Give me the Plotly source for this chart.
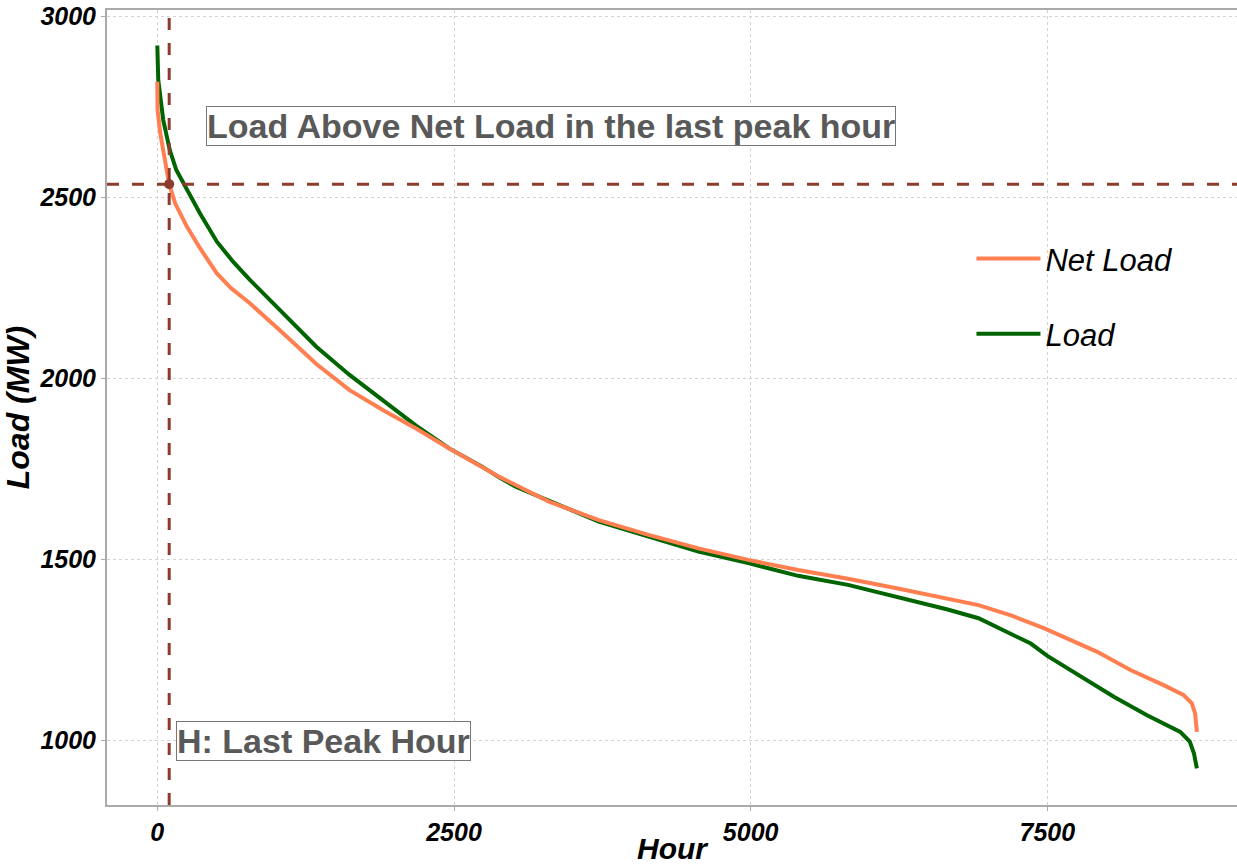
import plotly.graph_objects as go

# ---- data ----
load_hours = [0, 8, 50, 105, 160, 250, 360, 502, 640, 782, 1060, 1340, 1620, 1900,
              2180, 2460, 2740, 2880, 3020, 3720, 4560, 4980, 5400, 5820, 6240, 6660,
              6920, 7220, 7360, 7500, 7780, 8060, 8340, 8620, 8700, 8735, 8760]
load_mw = [2920, 2824, 2714, 2631, 2576, 2521, 2456, 2378, 2322, 2272, 2180, 2088, 2010, 1941,
           1870, 1807, 1756, 1727, 1701, 1605, 1522, 1490, 1455, 1430, 1397, 1362,
           1338, 1291, 1268, 1234, 1176, 1121, 1070, 1024, 997, 965, 923]

net_hours = [0, 2, 25, 65, 100, 150, 250, 360, 500, 620, 780, 1060, 1340, 1620, 1900, 2180,
             2460, 2880, 3300, 3720, 4140, 4560, 4980, 5400, 5820, 6240, 6660, 6920,
             7200, 7480, 7920, 8200, 8480, 8646, 8717, 8745, 8760]
net_mw = [2820, 2742, 2677, 2604, 2537, 2484, 2419, 2360, 2291, 2250, 2208, 2125, 2040, 1968, 1913, 1862,
          1807, 1729, 1660, 1609, 1568, 1531, 1499, 1471, 1447, 1420, 1390, 1374,
          1345, 1309, 1245, 1195, 1153, 1126, 1103, 1075, 1024]

peak_hour = 100
peak_net_load = 2537

x_ticks = [0, 2500, 5000, 7500]
y_ticks = [1000, 1500, 2000, 2500, 3000]

label_top = "Load Above Net Load in the last peak hour"
label_bottom = "H: Last Peak Hour"

# ---- styles ----
FONT = "Liberation Sans, Arial, sans-serif"
BROWN = "#8c3b2c"
GREEN = "#006400"
CORAL = "#FF7F50"
AXIS_GRAY = "#aaaaaa"
GRID_GRAY = "#d3d3d3"

fig = go.Figure()

fig.add_trace(go.Scatter(x=load_hours, y=load_mw, mode="lines", name="Load",
                         line=dict(color=GREEN, width=4), legendrank=2,
                         legendgroup="b"))
fig.add_trace(go.Scatter(x=net_hours, y=net_mw, mode="lines", name="Net Load",
                         line=dict(color=CORAL, width=4), legendrank=1,
                         legendgroup="a"))

fig.add_shape(type="line", xref="x", yref="paper", x0=peak_hour, x1=peak_hour, y0=0, y1=1,
              line=dict(color=BROWN, width=3, dash="12px,13px"), layer="above")
fig.add_shape(type="line", xref="paper", yref="y", x0=0, x1=1, y0=peak_net_load, y1=peak_net_load,
              line=dict(color=BROWN, width=3, dash="12px,13px"), layer="above")

fig.add_trace(go.Scatter(x=[peak_hour], y=[peak_net_load], mode="markers", showlegend=False,
                         marker=dict(color=BROWN, size=10)))

fig.add_annotation(x=410, y=2697, xref="x", yref="y", text=label_top, showarrow=False,
                   xanchor="left", yanchor="middle",
                   font=dict(family=FONT, size=34, color="#595959", weight="bold"),
                   bgcolor="white", bordercolor="#777777", borderwidth=1, borderpad=0)
fig.add_annotation(x=158, y=1000, xref="x", yref="y", text=label_bottom, showarrow=False,
                   xanchor="left", yanchor="middle",
                   font=dict(family=FONT, size=34, color="#595959", weight="bold"),
                   bgcolor="white", bordercolor="#777777", borderwidth=1, borderpad=0)

tick_font = dict(family=FONT, size=25, color="black", weight="bold", style="italic")
x_title_font = dict(family=FONT, size=30, color="black", weight="bold", style="italic")
y_title_font = dict(family=FONT, size=32, color="black", weight="bold", style="italic")

fig.update_xaxes(range=[-424, 9098], tickvals=x_ticks, showgrid=True, gridcolor=GRID_GRAY,
                 griddash="3px,3px", gridwidth=1, zeroline=False, showline=True,
                 linecolor=AXIS_GRAY, linewidth=2, mirror=True, ticks="outside", ticklen=4,
                 tickcolor=AXIS_GRAY, tickfont=tick_font, automargin=False,
                 title=dict(text="Hour", font=x_title_font, standoff=2))
fig.update_yaxes(range=[822, 3018], tickvals=y_ticks, showgrid=True, gridcolor=GRID_GRAY,
                 griddash="3px,3px", gridwidth=1, zeroline=False, showline=True,
                 linecolor=AXIS_GRAY, linewidth=2, ticks="outside", ticklen=4,
                 tickcolor=AXIS_GRAY, tickfont=tick_font, automargin=False,
                 title=dict(text="Load (MW)", font=y_title_font, standoff=0))

fig.update_layout(
    width=1237, height=865,
    margin=dict(l=107, r=0, t=10, b=60),
    plot_bgcolor="white", paper_bgcolor="white",
    font=dict(family=FONT),
    legend=dict(x=0.765, y=0.721, xanchor="left", yanchor="top",
                font=dict(family=FONT, size=31, color="black", style="italic"),
                bgcolor="rgba(0,0,0,0)", tracegroupgap=32, itemwidth=64,
                traceorder="grouped"),
)

fig.write_html("out.html")
